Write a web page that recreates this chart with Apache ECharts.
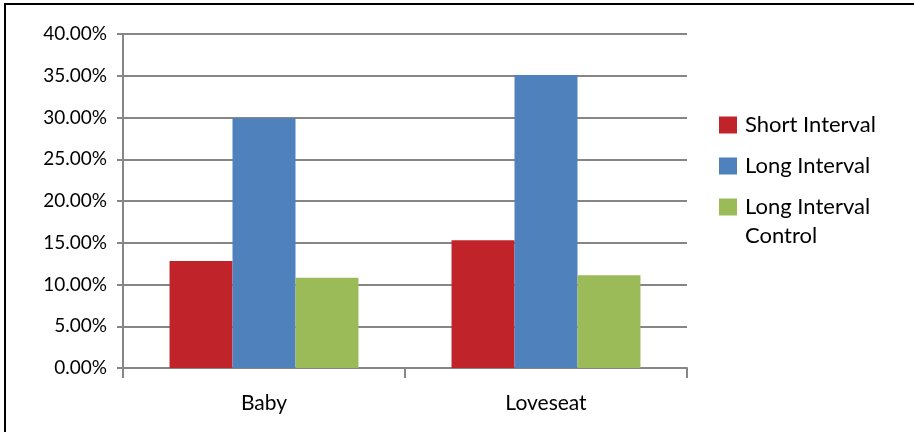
<!DOCTYPE html>
<html>
<head>
<meta charset="utf-8">
<script src="https://cdn.jsdelivr.net/npm/echarts@6/dist/echarts.min.js"></script>
<style>
  html, body { margin: 0; padding: 0; background: #fff; }
  #chart { width: 914px; height: 432px; }
</style>
</head>
<body>
<div id="chart"></div>
<script>
// Response rates by furniture item and condition
const categories = ['Baby', 'Loveseat'];
const seriesNames = ['Short Interval', 'Long Interval', 'Long Interval Control'];
const shortInterval = [12.8, 15.3];
const longInterval = [29.9, 35.1];
const longIntervalControl = [10.8, 11.1];
const yTicks = [0, 5, 10, 15, 20, 25, 30, 35, 40];

const colors = ['#C0232A', '#4F81BD', '#9BBB59'];
const font = 'Lato, "Open Sans", sans-serif';

const chart = echarts.init(document.getElementById('chart'), null, { renderer: 'canvas' });

const valuesBySeries = [shortInterval, longInterval, longIntervalControl];

// The last legend entry wraps onto a second line under its first line
const legendTop = 114;
const legendRow = 41;
const legendFontSize = 22;

chart.setOption({
  animation: false,
  backgroundColor: '#ffffff',
  grid: { left: 123, top: 34, width: 564, height: 334, containLabel: false },
  legend: {
    orient: 'vertical',
    left: 719,
    top: legendTop,
    padding: 0,
    icon: 'rect',
    itemWidth: 18,
    itemHeight: 17,
    itemGap: legendRow - 22,
    textStyle: { fontFamily: font, fontSize: legendFontSize, color: '#000', lineHeight: 22, padding: [0, 0, 0, 3] },
    data: seriesNames,
    formatter: function (name) {
      return name === 'Long Interval Control' ? 'Long Interval' : name;
    }
  },
  xAxis: {
    type: 'category',
    data: categories,
    boundaryGap: true,
    axisLine: { lineStyle: { color: '#868686', width: 2 } },
    axisTick: { show: true, length: 10, lineStyle: { color: '#868686', width: 2 } },
    axisLabel: { fontFamily: font, fontSize: 21, color: '#000', margin: 25 },
    splitLine: { show: false }
  },
  yAxis: {
    type: 'value',
    min: yTicks[0],
    max: yTicks[yTicks.length - 1],
    interval: yTicks[1] - yTicks[0],
    axisLine: { show: true, lineStyle: { color: '#868686', width: 2 } },
    axisTick: { show: true, length: 6, lineStyle: { color: '#868686', width: 2 } },
    axisLabel: {
      fontFamily: font, fontSize: 19, color: '#000', margin: 16,
      formatter: v => v.toFixed(2) + '%'
    },
    splitLine: { show: true, lineStyle: { color: '#868686', width: 2 } }
  },
  series: seriesNames.map((name, i) => ({
    name: name,
    type: 'bar',
    data: valuesBySeries[i],
    barGap: '0%',
    barCategoryGap: '33%',
    itemStyle: { color: colors[i] }
  })),
  graphic: [
    {
      type: 'text',
      left: 745,
      top: 225,
      style: { text: 'Control', fontFamily: font, fontSize: legendFontSize, fill: '#000' },
      silent: true
    },
    {
      type: 'rect',
      shape: { x: 5, y: 4, width: 930, height: 450 },
      style: { fill: 'none', stroke: '#000', lineWidth: 2 },
      silent: true
    }
  ]
});
</script>
</body>
</html>
